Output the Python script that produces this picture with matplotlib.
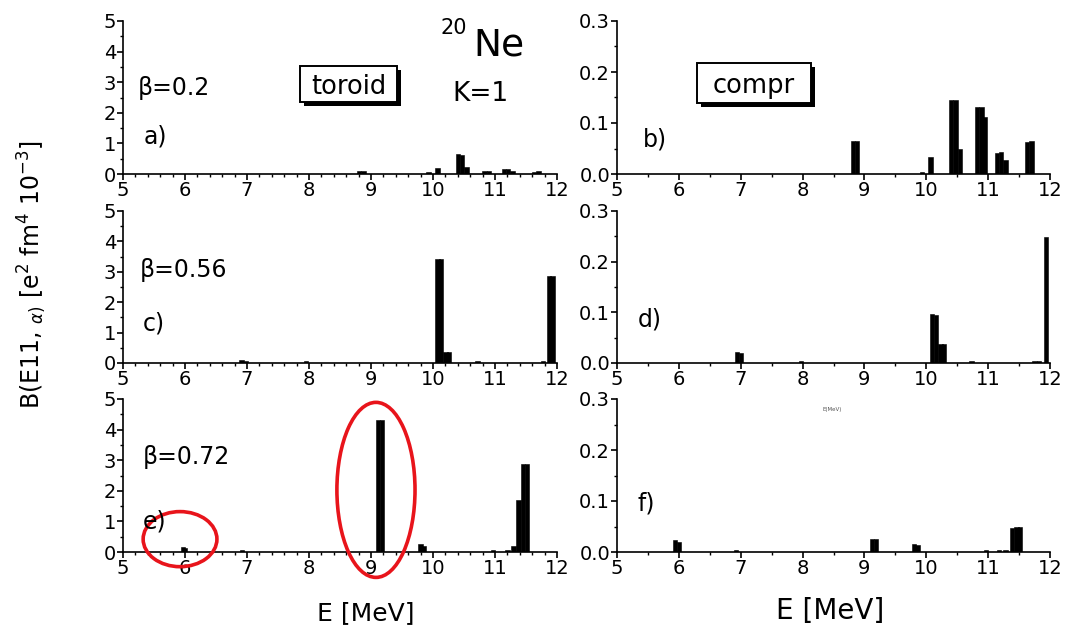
import matplotlib
matplotlib.use("Agg")
import matplotlib.pyplot as plt
from matplotlib.patches import Ellipse, Rectangle
from matplotlib.ticker import MultipleLocator, FormatStrFormatter

plt.rcParams['font.family'] = ['DejaVu Sans']

# ---------------- data (E in MeV, B in e^2 fm^4 10^-3) ----------------
bar_width = 0.07

# a) beta=0.2 toroidal
E_a = [8.81, 8.88, 9.93, 10.07, 10.40, 10.47, 10.54, 10.83, 10.90, 11.14, 11.21, 11.28, 11.63, 11.70]
B_a = [0.11, 0.11, 0.05, 0.18, 0.65, 0.63, 0.24, 0.09, 0.10, 0.17, 0.15, 0.10, 0.08, 0.10]
# b) beta=0.2 compression
E_b = [8.81, 8.88, 9.93, 10.07, 10.40, 10.47, 10.54, 10.82, 10.89, 10.94, 11.14, 11.21, 11.28, 11.63, 11.70]
B_b = [0.065, 0.065, 0.004, 0.033, 0.146, 0.145, 0.050, 0.132, 0.132, 0.112, 0.042, 0.044, 0.027, 0.062, 0.065]
# c) beta=0.56 toroidal
E_c = [6.91, 6.98, 7.95, 10.07, 10.13, 10.20, 10.26, 10.72, 11.77, 11.87, 11.93]
B_c = [0.11, 0.08, 0.05, 3.41, 3.41, 0.36, 0.36, 0.05, 0.05, 2.85, 2.85]
# d) beta=0.56 compression
E_d = [6.94, 7.00, 7.98, 10.09, 10.16, 10.23, 10.29, 10.73, 11.75, 11.82, 11.93]
B_d = [0.022, 0.019, 0.004, 0.096, 0.094, 0.037, 0.037, 0.003, 0.004, 0.004, 0.249]
# e) beta=0.72 toroidal
E_e = [5.97, 6.00, 6.92, 9.11, 9.18, 9.80, 9.85, 10.97, 11.20, 11.30, 11.38, 11.45, 11.52]
B_e = [0.15, 0.12, 0.07, 4.30, 4.30, 0.27, 0.20, 0.07, 0.08, 0.20, 1.69, 2.89, 2.89]
# f) beta=0.72 compression
E_f = [5.94, 6.00, 6.92, 9.12, 9.19, 9.80, 9.86, 10.97, 11.18, 11.28, 11.39, 11.46, 11.52]
B_f = [0.023, 0.020, 0.003, 0.026, 0.026, 0.016, 0.013, 0.003, 0.004, 0.004, 0.048, 0.049, 0.050]

panel_labels = ['a)', 'b)', 'c)', 'd)', 'e)', 'f)']
beta_labels = ['β=0.2', 'β=0.56', 'β=0.72']
x_ticks = [5, 6, 7, 8, 9, 10, 11, 12]
y_ticks_left = [0, 1, 2, 3, 4, 5]
y_ticks_right = [0.0, 0.1, 0.2, 0.3]

W, H = 1066, 625
fig = plt.figure(figsize=(W / 100, H / 100), dpi=100)

def fx(x):
    return x / W

def fy(y):
    return 1 - y / H

col_px = [(123, 557), (617, 1050)]
row_px = [(21, 174), (211, 363), (399, 552)]

series = [[(E_a, B_a), (E_b, B_b)],
          [(E_c, B_c), (E_d, B_d)],
          [(E_e, B_e), (E_f, B_f)]]

axes = {}
for r, (yt, yb) in enumerate(row_px):
    for c, (xl, xr) in enumerate(col_px):
        ax = fig.add_axes([fx(xl), fy(yb), (xr - xl) / W, (yb - yt) / H])
        E, B = series[r][c]
        ax.bar(E, B, width=bar_width, color='black', edgecolor='black', linewidth=0.4)
        ax.set_xlim(5, 12)
        ax.set_xticks(x_ticks)
        if c == 0:
            ax.set_ylim(0, 5)
            ax.set_yticks(y_ticks_left)
            ax.yaxis.set_minor_locator(MultipleLocator(0.5))
            ax.xaxis.set_minor_locator(MultipleLocator(0.2))
        else:
            ax.set_ylim(0, 0.3)
            ax.set_yticks(y_ticks_right)
            ax.yaxis.set_major_formatter(FormatStrFormatter('%.1f'))
            ax.yaxis.set_minor_locator(MultipleLocator(0.05))
            ax.xaxis.set_minor_locator(MultipleLocator(0.5))
        for s in ['top', 'right']:
            ax.spines[s].set_visible(False)
        for s in ['left', 'bottom']:
            ax.spines[s].set_linewidth(1.2)
        ax.tick_params(which='major', direction='out', length=4, width=1.2,
                       labelsize=14, pad=1)
        ax.tick_params(which='minor', direction='out', length=2.2, width=1.0)
        ax.patch.set_alpha(0)
        axes[(r, c)] = ax

def ftext(x, y, s, **kw):
    kw.setdefault('ha', 'left')
    kw.setdefault('va', 'baseline')
    return fig.text(fx(x), fy(y), s, **kw)

# beta labels and panel letters
ftext(138, 95, beta_labels[0], fontsize=17)
ftext(140, 277, beta_labels[1], fontsize=17)
ftext(143, 464, beta_labels[2], fontsize=17)
ftext(144, 144, panel_labels[0], fontsize=17)
ftext(643, 146, panel_labels[1], fontsize=17)
ftext(143, 330, panel_labels[2], fontsize=17)
ftext(638, 327, panel_labels[3], fontsize=17)
ftext(143, 528, panel_labels[4], fontsize=17)
ftext(638, 511, panel_labels[5], fontsize=17)

# nucleus and K
ftext(441, 34, '20', fontsize=15)
ftext(473, 55, 'Ne', fontsize=27)
ftext(452, 101, 'K=1', fontsize=19)

# boxed labels with shadow
for (x0, y0, x1, y1, s) in [(300, 66, 397, 102, 'toroid'), (697, 63, 811, 103, 'compr')]:
    sh = 4
    fig.patches.append(Rectangle((fx(x0 + sh), fy(y1 + sh)), (x1 - x0) / W, (y1 - y0) / H,
                                 transform=fig.transFigure, fc='black', ec='black', lw=0))
    fig.patches.append(Rectangle((fx(x0), fy(y1)), (x1 - x0) / W, (y1 - y0) / H,
                                 transform=fig.transFigure, fc='white', ec='black', lw=1.4))
    ftext((x0 + x1) / 2, (y0 + y1) / 2, s, fontsize=18.5, ha='center', va='center_baseline')

# tiny leftover label
ftext(832, 409, 'E(MeV)', fontsize=4, ha='center', va='center', color='#555555')

# axis titles
ftext(317, 620, 'E [MeV]', fontsize=18)
ftext(776, 619, 'E [MeV]', fontsize=20)
fig.text(0.030, fy(275), r'B(E11, $_{\alpha)}$ [e$^{2}$ fm$^{4}$ 10$^{-3}$]',
         rotation=90, ha='center', va='center', fontsize=17)

# red ellipses highlighting peaks in panel e
axe = axes[(2, 0)]
for (cx, cy, w, h) in [(5.92, 0.42, 1.19, 1.8), (9.08, 2.03, 1.26, 5.72)]:
    axe.add_patch(Ellipse((cx, cy), w, h, fill=False, ec='#e8141b', lw=2.6, clip_on=False,
                          zorder=5))

fig.savefig('out.png', dpi=100)
